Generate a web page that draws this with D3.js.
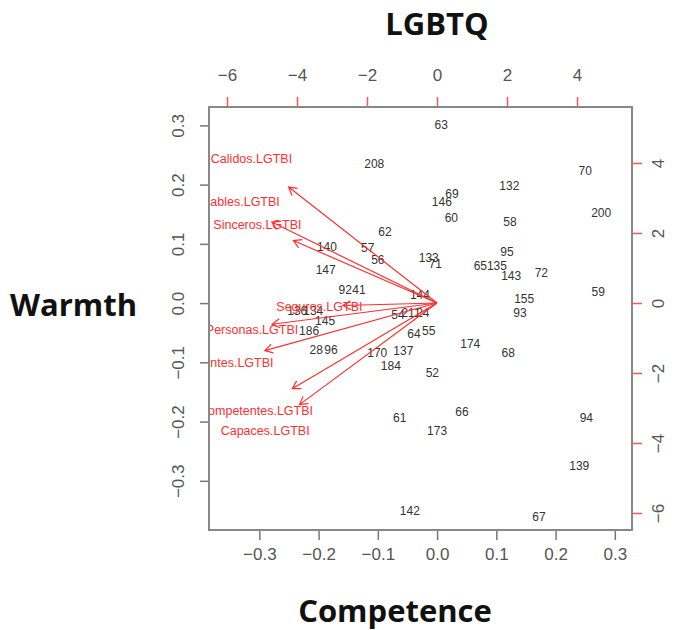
<!DOCTYPE html>
<html>
<head>
<meta charset="utf-8">
<script src="https://cdn.jsdelivr.net/npm/d3@7"></script>
<style>
  body { margin: 0; background: #fff; }
  .tick text { font-family: "Liberation Sans", Arial, sans-serif; }
</style>
</head>
<body>
<div id="chart"></div>
<script>
// row scores (PC1 = competence, PC2 = warmth)
var ids = ["63","208","70","132","69","146","60","58","200","62","140","57","56","133","71","95","65","135","143","72",
  "147","92","41","144","59","155","93","136","134","145","186","54","211","24","64","55","174","68","28","96",
  "170","137","184","52","61","66","173","94","139","142","67"];
var pc1 = [0.007,-0.106,0.250,0.122,0.025,0.008,0.024,0.123,0.277,-0.088,-0.186,-0.117,-0.100,-0.014,-0.003,0.118,0.073,0.101,0.125,0.176,
  -0.188,-0.155,-0.132,-0.029,0.272,0.147,0.140,-0.236,-0.209,-0.189,-0.216,-0.066,-0.044,-0.024,-0.039,-0.014,0.056,0.120,-0.204,-0.179,
  -0.101,-0.057,-0.078,-0.008,-0.063,0.042,0.000,0.252,0.240,-0.046,0.172];
var pc2 = [0.301,0.236,0.223,0.199,0.184,0.171,0.145,0.137,0.152,0.120,0.096,0.093,0.073,0.076,0.066,0.086,0.064,0.064,0.047,0.051,
  0.056,0.022,0.022,0.015,0.019,0.008,-0.017,-0.012,-0.012,-0.030,-0.046,-0.020,-0.017,-0.017,-0.051,-0.047,-0.069,-0.083,-0.079,-0.079,
  -0.084,-0.081,-0.105,-0.118,-0.193,-0.184,-0.216,-0.193,-0.275,-0.351,-0.360];

// variable loadings (top/right axes)
var varNames = ["Calidos.LGTBI","Confiables.LGTBI","Sinceros.LGTBI","Seguros.LGTBI",
  "BuenasPersonas.LGTBI","Inteligentes.LGTBI","Competentes.LGTBI","Capaces.LGTBI"];
var load1 = [-5.30,-5.90,-5.13,-3.36,-5.89,-6.15,-5.17,-4.91];
var load2 = [4.14,2.89,2.23,-0.09,-0.76,-1.70,-3.06,-3.63];

var xTicks = [-0.3,-0.2,-0.1,0.0,0.1,0.2,0.3];
var yTicks = [-0.3,-0.2,-0.1,0.0,0.1,0.2,0.3];
var topTicks = [-6,-4,-2,0,2,4];
var rightTicks = [-6,-4,-2,0,2,4];

var W = 681, H = 630;
var box = {left: 209, right: 632, top: 107, bottom: 530};

var svg = d3.select("#chart").append("svg")
    .attr("width", W)
    .attr("height", H);

// scales
var x = d3.scaleLinear().domain([-0.385, 0.329]).range([box.left, box.right]);
var y = d3.scaleLinear().domain([-0.383, 0.331]).range([box.bottom, box.top]);
var x2 = d3.scaleLinear().domain([-6.514, 5.571]).range([box.left, box.right]);
var y2 = d3.scaleLinear().domain([-6.486, 5.6]).range([box.bottom, box.top]);

var fmt = d3.format(".1f");
var labelFont = "Liberation Sans, Arial, sans-serif";

function styleAxis(g, tickColor, textColor) {
  g.select(".domain").remove();
  g.selectAll(".tick line").attr("stroke", tickColor).attr("stroke-width", 1.5);
  g.selectAll(".tick text")
    .attr("fill", textColor)
    .style("font-size", "17px");
}

// bottom axis
var gx = svg.append("g")
    .attr("transform", "translate(0," + box.bottom + ")")
    .call(d3.axisBottom(x).tickValues(xTicks).tickFormat(fmt).tickSize(10).tickPadding(8));
styleAxis(gx, "#777", "#555");

// left axis (labels rotated like R)
var gy = svg.append("g")
    .attr("transform", "translate(" + box.left + ",0)")
    .call(d3.axisLeft(y).tickValues(yTicks).tickFormat(fmt).tickSize(9));
styleAxis(gy, "#777", "#555");
gy.selectAll(".tick text")
    .attr("x", null).attr("dy", null)
    .attr("transform", "translate(-31,0) rotate(-90)")
    .attr("text-anchor", "middle")
    .attr("dominant-baseline", "central");

// top axis (loadings)
var gt = svg.append("g")
    .attr("transform", "translate(0," + box.top + ")")
    .call(d3.axisTop(x2).tickValues(topTicks).tickSize(10).tickPadding(16));
styleAxis(gt, "#ff5555", "#555");

// right axis (loadings)
var gr = svg.append("g")
    .attr("transform", "translate(" + box.right + ",0)")
    .call(d3.axisRight(y2).tickValues(rightTicks).tickSize(10));
styleAxis(gr, "#ff5555", "#555");
gr.selectAll(".tick text")
    .attr("x", null).attr("dy", null)
    .attr("transform", "translate(26,0) rotate(-90)")
    .attr("text-anchor", "middle")
    .attr("dominant-baseline", "central");

// clip to plot region
svg.append("clipPath").attr("id", "plotClip")
  .append("rect")
    .attr("x", box.left).attr("y", box.top)
    .attr("width", box.right - box.left)
    .attr("height", box.bottom - box.top);

var plot = svg.append("g").attr("clip-path", "url(#plotClip)");

// row labels
plot.selectAll(".obs")
    .data(ids)
  .enter().append("text")
    .attr("class", "obs")
    .attr("x", function(d, i) { return x(pc1[i]); })
    .attr("y", function(d, i) { return y(pc2[i]); })
    .attr("dy", "0.36em")
    .attr("text-anchor", "middle")
    .style("font-family", labelFont)
    .style("font-size", "12px")
    .attr("fill", "#333")
    .text(function(d) { return d; });

// arrows to 0.8 of loading, as R biplot does
var red = "#ff3030";
var headLen = 9, headAng = Math.PI / 6;
varNames.forEach(function(name, i) {
  var x0 = x2(0), y0 = y2(0);
  var x1 = x2(load1[i] * 0.8), y1 = y2(load2[i] * 0.8);
  var ang = Math.atan2(y1 - y0, x1 - x0);
  var path = d3.path();
  path.moveTo(x0, y0);
  path.lineTo(x1, y1);
  path.moveTo(x1 - headLen * Math.cos(ang - headAng), y1 - headLen * Math.sin(ang - headAng));
  path.lineTo(x1, y1);
  path.lineTo(x1 - headLen * Math.cos(ang + headAng), y1 - headLen * Math.sin(ang + headAng));
  plot.append("path")
      .attr("d", path.toString())
      .attr("fill", "none")
      .attr("stroke", red)
      .attr("stroke-width", 1.2);
});

// variable labels at the loading
plot.selectAll(".var")
    .data(varNames)
  .enter().append("text")
    .attr("class", "var")
    .attr("x", function(d, i) { return x2(load1[i]); })
    .attr("y", function(d, i) { return y2(load2[i]); })
    .attr("dy", "0.36em")
    .attr("text-anchor", "middle")
    .style("font-family", labelFont)
    .style("font-size", "12.5px")
    .attr("fill", red)
    .text(function(d) { return d; });

// box
svg.append("rect")
    .attr("x", box.left).attr("y", box.top)
    .attr("width", box.right - box.left)
    .attr("height", box.bottom - box.top)
    .attr("fill", "none")
    .attr("stroke", "#888")
    .attr("stroke-width", 2);

// titles added around the plot
var titleFont = "Open Sans, Lato, sans-serif";
svg.append("text")
    .attr("x", 437).attr("y", 35)
    .attr("text-anchor", "middle")
    .style("font-family", titleFont).style("font-weight", "bold").style("font-size", "31px")
    .attr("fill", "#111")
    .text("LGBTQ");

svg.append("text")
    .attr("x", 10).attr("y", 316)
    .style("font-family", titleFont).style("font-weight", "bold").style("font-size", "31px")
    .attr("fill", "#111")
    .text("Warmth");

svg.append("text")
    .attr("x", 395).attr("y", 622)
    .attr("text-anchor", "middle")
    .style("font-family", titleFont).style("font-weight", "bold").style("font-size", "31px")
    .attr("fill", "#111")
    .text("Competence");
</script>
</body>
</html>
